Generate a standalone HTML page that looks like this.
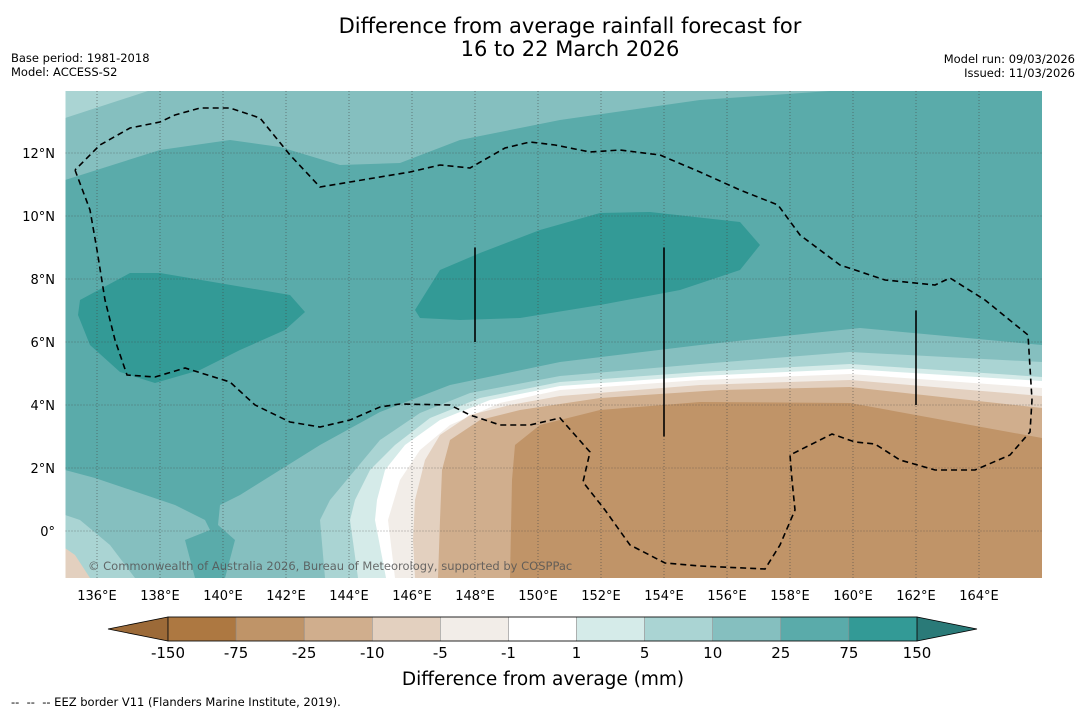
<!DOCTYPE html>
<html><head><meta charset="utf-8">
<style>
html,body{margin:0;padding:0;background:#fff;}
body{width:1085px;height:713px;position:relative;overflow:hidden;font-family:"Liberation Sans","DejaVu Sans",sans-serif;}
.t{position:absolute;color:#000;}
</style></head>
<body>
<div class="t" style="left:0;width:1140px;top:15px;text-align:center;font-size:21px;line-height:23px;font-family:'DejaVu Sans',sans-serif;">Difference from average rainfall forecast for<br>16 to 22 March 2026</div>
<div class="t" style="left:11px;top:51px;font-size:11.5px;line-height:14px;font-family:'DejaVu Sans',sans-serif;">Base period: 1981-2018<br>Model: ACCESS-S2</div>
<div class="t" style="right:10px;top:52px;font-size:11.5px;line-height:14px;text-align:right;font-family:'DejaVu Sans',sans-serif;">Model run: 09/03/2026<br>Issued: 11/03/2026</div>
<svg id="map" width="1085" height="713" style="position:absolute;left:0;top:0" font-family="DejaVu Sans, Liberation Sans, sans-serif"></svg>
<div class="t" style="left:11px;top:695px;font-size:11.5px;font-family:'DejaVu Sans',sans-serif;">--&nbsp; --&nbsp; -- EEZ border V11 (Flanders Marine Institute, 2019).</div>
<script>
const lonTicks=[136,138,140,142,144,146,148,150,152,154,156,158,160,162,164];
const latTicks=[0,2,4,6,8,10,12];
const levels=["-150","-75","-25","-10","-5","-1","1","5","10","25","75","150"];
const levelColors=["#ad7841","#bf9468","#d0ae8d","#e3d0bf","#f2ede8","#ffffff","#d5ebe9","#aad4d3","#85bfbf","#5aabaa","#339a96"];
const lowColor="#9c6a38", highColor="#2a7a78";
function P(pts){return pts.map(p=>[135+(p[0]-65.5)/31.5,(531-p[1])/31.5]);}
const contours=[
["#85bfbf",P([[65,91],[830,91],[700,100],[560,120],[460,140],[400,163],[340,165],[280,147],[230,140],[160,150],[65,180]])],
["#aad4d3",P([[65,91],[148,91],[65,118]])],
["#339a96",P([[78,315],[80,300],[130,273],[160,273],[290,295],[305,312],[285,330],[240,350],[200,370],[155,383],[120,372],[90,345]])],
["#339a96",P([[415,310],[440,270],[480,253],[540,230],[600,213],[650,212],[740,222],[760,245],[740,270],[680,290],[600,305],[520,318],[460,320],[420,318]])],
["#85bfbf",P([[1042,345],[860,328],[700,345],[560,362],[450,385],[380,412],[320,445],[280,470],[240,495],[220,505],[218,525],[235,540],[225,578],[1042,578]])],
["#85bfbf",P([[65,470],[95,478],[175,505],[205,520],[210,530],[185,540],[195,578],[65,578]])],
["#aad4d3",P([[65,515],[80,520],[110,545],[135,578],[65,578]])],
["#aad4d3",P([[1042,362],[850,352],[700,364],[560,376],[470,393],[420,413],[380,440],[355,470],[330,500],[320,520],[325,578],[1042,578]])],
["#d5ebe9",P([[1042,377],[850,364],[700,372],[560,382],[480,398],[430,418],[395,445],[370,470],[355,500],[350,520],[358,578],[1042,578]])],
["#ffffff",P([[1042,381],[850,369],[700,376],[560,386],[490,400],[440,420],[405,445],[385,470],[377,500],[375,520],[386,578],[1042,578]])],
["#f2ede8",P([[1042,388],[850,374],[700,380],[560,390],[500,403],[450,425],[420,450],[400,480],[388,520],[395,578],[1042,578]])],
["#e3d0bf",P([[1042,396],[850,380],[700,385],[560,396],[510,405],[470,415],[440,435],[425,460],[415,500],[413,540],[415,578],[1042,578]])],
["#d0ae8d",P([[1042,408],[850,387],[720,390],[600,398],[520,410],[480,420],[450,440],[442,470],[440,520],[438,578],[1042,578]])],
["#c09468",P([[1042,438],[850,403],[700,402],[600,410],[540,425],[515,445],[512,480],[510,578],[1042,578]])],
["#e3d0bf",P([[65,548],[75,555],[90,578],[65,578]])]
];
const eez=P([[75,170],[90,210],[97,250],[105,300],[115,340],[127,375],[155,377],[185,368],[230,382],[255,405],[290,422],[320,427],[350,420],[380,407],[400,404],[450,405],[470,415],[500,425],[530,425],[560,418],[575,435],[590,452],[583,482],[605,510],[630,545],[665,563],[700,566],[765,569],[780,545],[795,510],[792,480],[790,455],[810,445],[832,434],[855,442],[875,444],[900,460],[935,470],[975,470],[1010,455],[1030,432],[1032,400],[1028,335],[985,300],[950,278],[935,285],[885,280],[840,265],[800,235],[778,205],[740,190],[700,172],[660,155],[620,150],[590,152],[555,145],[530,142],[505,148],[470,168],[440,165],[410,172],[320,187],[290,155],[260,118],[230,108],[200,108],[175,115],[160,122],[130,128],[100,145],[75,170]]);
const vlines=[[148,9,6],[154,9,3],[162,7,4]];
const X0=65.5,X1=1042,Y0=91,Y1=578;
const xs=lon=>65.5+(lon-135)*31.5;
const ys=lat=>531-lat*31.5;
const NS='http://www.w3.org/2000/svg';
const svg=document.getElementById('map');
function el(t,a,p){const e=document.createElementNS(NS,t);for(const k in a)e.setAttribute(k,a[k]);(p||svg).appendChild(e);return e;}
const defs=el('defs',{});const cp=el('clipPath',{id:'clip'},defs);el('rect',{x:X0,y:Y0,width:X1-X0,height:Y1-Y0},cp);
const g=el('g',{'clip-path':'url(#clip)'});
const bg=el('rect',{x:X0,y:Y0,width:X1-X0,height:Y1-Y0,fill:'#5aabaa'},g);


contours.forEach((c,i)=>{
 const p=el('polygon',{points:c[1].map(q=>xs(q[0])+','+ys(q[1])).join(' '),fill:c[0]},g);
 
 
});
lonTicks.forEach(l=>{
 const x=xs(l);
 const ln=el('line',{x1:x,x2:x,y1:Y0,y2:Y1,stroke:'#444',"stroke-width":0.8,"stroke-dasharray":'1,2',opacity:0.7},g);
 
 
 const t=el('text',{x:x,y:600,'text-anchor':'middle','font-size':13,fill:'#000'});t.textContent=l+'°E';
 
 
});
latTicks.forEach(l=>{
 const y=ys(l);
 const ln=el('line',{x1:X0,x2:X1,y1:y,y2:y,stroke:'#444',"stroke-width":0.8,"stroke-dasharray":'1,2',opacity:0.7},g);
 
 
 const t=el('text',{x:55,y:y+5,'text-anchor':'end','font-size':13,fill:'#000'});t.textContent=l===0?'0°':l+'°N';
 
 
});
const ez=el('polyline',{points:eez.map(q=>xs(q[0])+','+ys(q[1])).join(' '),fill:'none',stroke:'#000','stroke-width':1.6,'stroke-dasharray':'6,4'},g);


vlines.forEach(v=>{
 const l=el('line',{x1:xs(v[0]),x2:xs(v[0]),y1:ys(v[1]),y2:ys(v[2]),stroke:'#000','stroke-width':1.6},g);
 
 
});
const cr=el('text',{x:88,y:570,'font-size':11.5,fill:'#555',opacity:0.85},g);cr.textContent='© Commonwealth of Australia 2026, Bureau of Meteorology, supported by COSPPac';


const cbL=168,cbR=917,cbT=617,cbB=641,n=levelColors.length,w=(cbR-cbL)/n;
const la=el('polygon',{points:`${cbL},${cbT} ${cbL},${cbB} 108,${(cbT+cbB)/2}`,fill:lowColor,stroke:'#000','stroke-width':0.8});


const ra=el('polygon',{points:`${cbR},${cbT} ${cbR},${cbB} 977,${(cbT+cbB)/2}`,fill:highColor,stroke:'#000','stroke-width':0.8});


levelColors.forEach((c,i)=>{
 const r=el('rect',{x:cbL+i*w,y:cbT,width:w,height:cbB-cbT,fill:c,stroke:'#888','stroke-width':0.5});
 
 
});
el('rect',{x:cbL,y:cbT,width:cbR-cbL,height:cbB-cbT,fill:'none',stroke:'#000','stroke-width':0.8});
levels.forEach((v,i)=>{
 const t=el('text',{x:cbL+i*w,y:658,'text-anchor':'middle','font-size':15,fill:'#000'});t.textContent=v;
 
 
});
const ct=el('text',{x:543,y:685,'text-anchor':'middle','font-size':18.5,fill:'#000'});ct.textContent='Difference from average (mm)';


</script>
</body></html>
